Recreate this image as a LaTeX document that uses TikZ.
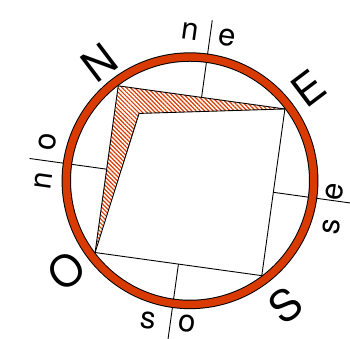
\documentclass[tikz,border=0pt]{standalone}
\usepackage{fontspec}
\setmainfont{TeX Gyre Heros}
\usetikzlibrary{calc,patterns.meta}
\definecolor{ringred}{RGB}{216,58,0}
\begin{document}
\begin{tikzpicture}[x=1pt,y=1pt,
  big/.style={font=\fontsize{43}{43}\selectfont, inner sep=0pt, rotate=37.1},
  small/.style={font=\fontsize{31}{31}\selectfont, inner sep=0pt},
  edgeline/.style={line width=0.9pt, black, line join=round},
  tickline/.style={line width=0.9pt, black}]
\useasboundingbox (0,0) rectangle (350,339);
\clip (0,0) rectangle (350,339);
\coordinate (C) at (190,158.25);
\coordinate (N) at ($(C)+(127.1:119)$);
\coordinate (E) at ($(C)+(37.1:119)$);
\coordinate (S) at ($(C)+(-52.9:119)$);
\coordinate (O) at ($(C)+(-142.9:119)$);
\coordinate (I) at ($(C)+(127.1:84.4)$);
\coordinate (mNE) at ($(C)+(82.1:84.15)$);
\coordinate (mES) at ($(C)+(-7.9:84.15)$);
\coordinate (mSO) at ($(C)+(-97.9:84.15)$);
\coordinate (mON) at ($(C)+(172.1:84.15)$);
\coordinate (tNE) at ($(C)+(82.1:162)$);
\coordinate (tES) at ($(C)+(-7.9:162)$);
\coordinate (tSO) at ($(C)+(-97.9:162)$);
\coordinate (tON) at ($(C)+(172.1:162)$);
% hatched band
\fill[pattern={Lines[angle=-45,distance=3pt,line width=1.2pt]}, pattern color=ringred]
  (N) -- (E) -- (I) -- (O) -- cycle;
\draw[edgeline] (N) -- (E) -- (S) -- (O) -- cycle;
\draw[edgeline] (E) -- (I) -- (O);
% ticks
\draw[tickline] (mNE) -- (tNE);
\draw[tickline] (mES) -- (tES);
\draw[tickline] (mSO) -- (tSO);
\draw[tickline] (mON) -- (tON);
% ring
\draw[black, line width=9.4] (C) circle[radius=123.7];
\draw[ringred, line width=7.4] (C) circle[radius=123.7];
% cardinal letters
\node[big] (lN) at (99,276) {N};
\node[big] (lE) at (308.3,250.7) {E};
\node[big] (lS) at (285,34) {S};
\node[big] (lO) at (66.7,68.2) {O};
% intermediate letters
\node[small, rotate=-7.9] (neN) at (190.3,307.7) {n};
\node[small, rotate=-7.9] (neE) at (227.5,301.5) {e};
\node[small, rotate=82.1] (seS) at (331.7,112.3) {s};
\node[small, rotate=82.1] (seE) at (335,147.3) {e};
\node[small, rotate=-7.9] (soS) at (148.3,18.2) {s};
\node[small, rotate=-7.9] (soO) at (187.5,15) {o};
\node[small, rotate=82.1] (noO) at (47.5,197.3) {o};
\node[small, rotate=82.1] (noN) at (43.3,158.2) {n};
\end{tikzpicture}
\end{document}
